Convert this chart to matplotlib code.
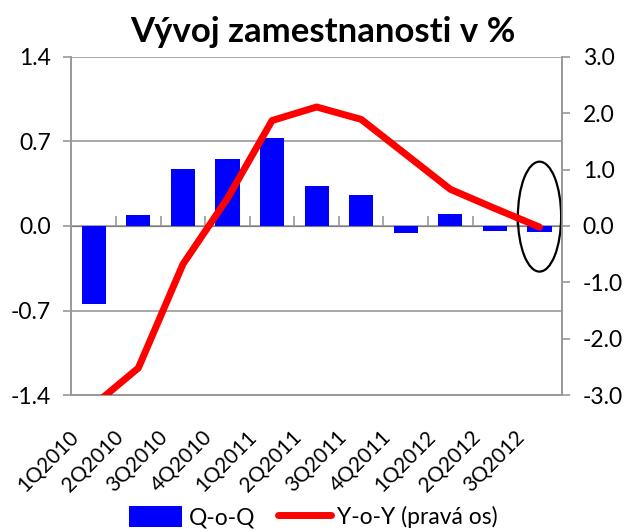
import matplotlib
matplotlib.use('Agg')
import matplotlib.pyplot as plt
import matplotlib.transforms as mtransforms
import numpy as np
from matplotlib.patches import Ellipse

plt.rcParams['font.family'] = ['Lato', 'DejaVu Sans']

quarters = ['1Q2010', '2Q2010', '3Q2010', '4Q2010', '1Q2011', '2Q2011',
            '3Q2011', '4Q2011', '1Q2012', '2Q2012', '3Q2012']
qoq = [-0.65, 0.09, 0.47, 0.55, 0.73, 0.33, 0.26, -0.06, 0.10, -0.04, -0.05]
yoy = [-3.18, -2.52, -0.68, 0.49, 1.87, 2.11, 1.89, 1.27, 0.65, 0.31, -0.02]

GRID = '#989898'


def draw_chart():
    fig = plt.figure(figsize=(6.27, 5.31), dpi=100)
    ax = fig.add_axes([0.114, 0.256, 0.782, 0.637])
    ax2 = ax.twinx()

    x = np.arange(len(quarters))
    ax.bar(x, qoq, width=0.54, color='#0000ff', label='Q-o-Q', zorder=2)
    ax2.plot(x, yoy, color='#ff0000', lw=5, solid_capstyle='round',
             label='Y-o-Y (pravá os)', zorder=3)

    ax.set_xlim(-0.5, len(quarters) - 0.5)
    ax.set_ylim(-1.4, 1.4)
    ax.set_yticks([-1.4, -0.7, 0.0, 0.7, 1.4])
    ax.set_yticklabels(['-1.4', '-0.7', '0.0', '0.7', '1.4'])
    ax2.set_ylim(-3.0, 3.0)
    ax2.set_yticks(np.arange(-3, 3.1, 1.0))
    ax2.set_yticklabels(['%.1f' % v for v in np.arange(-3, 3.1, 1.0)])

    ax.yaxis.grid(True, color=GRID, lw=1.2, zorder=0)
    ax.set_axisbelow(True)
    for a in (ax, ax2):
        for s in a.spines.values():
            s.set_color(GRID)
            s.set_linewidth(1.2)
        a.tick_params(axis='y', labelsize=16.5, length=6, color=GRID,
                      width=1.2, pad=9)
    ax.spines['top'].set_visible(False)
    ax2.spines['top'].set_visible(False)

    # rotated category labels hang a bit left of the category centre
    ax.set_xticks(x)
    ax.set_xticklabels(quarters, rotation=45, ha='right', va='top',
                       fontsize=15)
    ax.tick_params(axis='x', length=0, pad=23)
    shift = mtransforms.ScaledTranslation(-0.11, 0, fig.dpi_scale_trans)
    for lab in ax.get_xticklabels():
        lab.set_transform(lab.get_transform() + shift)

    # x axis crossing at zero with boundary ticks
    zx = ax.secondary_xaxis(0.5)
    zx.set_xticks(x[:-1] + 0.5)
    zx.set_xticklabels([])
    zx.tick_params(axis='x', direction='out', length=7, color=GRID,
                   width=1.2)
    zx.spines['bottom'].set_color(GRID)
    zx.spines['bottom'].set_linewidth(1.2)

    ax.add_patch(Ellipse((len(quarters) - 1, 0.077), 0.97, 0.91,
                         fill=False, ec='black', lw=1.6, zorder=4))

    fig.text(0.515, 0.94, 'Vývoj zamestnanosti v %', ha='center',
             va='center', fontsize=25, fontweight='bold')

    h1, l1 = ax.get_legend_handles_labels()
    h2, l2 = ax2.get_legend_handles_labels()
    fig.legend(h1 + h2, l1 + l2, loc='center', ncol=2,
               bbox_to_anchor=(0.5, 0.026), frameon=False, fontsize=16.5,
               handlelength=2.3, handleheight=1.0, handletextpad=0.3,
               columnspacing=1.0, borderpad=0)

    fig.savefig('out.png', dpi=100)


if __name__ == '__main__':
    draw_chart()
